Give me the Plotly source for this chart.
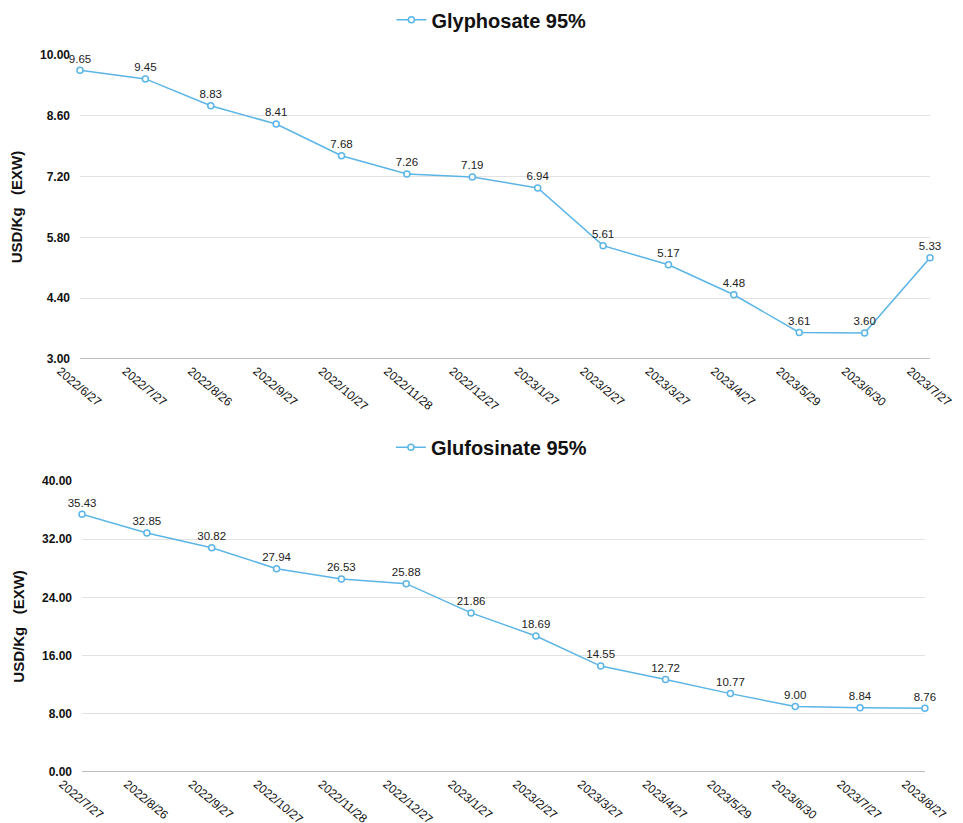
import plotly.graph_objects as go

# Glyphosate 95% price series
gly_dates = ["2022/6/27", "2022/7/27", "2022/8/26", "2022/9/27", "2022/10/27", "2022/11/28",
             "2022/12/27", "2023/1/27", "2023/2/27", "2023/3/27", "2023/4/27", "2023/5/29",
             "2023/6/30", "2023/7/27"]
gly_prices = [9.65, 9.45, 8.83, 8.41, 7.68, 7.26, 7.19, 6.94, 5.61, 5.17, 4.48, 3.61, 3.60, 5.33]

# Glufosinate 95% price series
glu_dates = ["2022/7/27", "2022/8/26", "2022/9/27", "2022/10/27", "2022/11/28", "2022/12/27",
             "2023/1/27", "2023/2/27", "2023/3/27", "2023/4/27", "2023/5/29", "2023/6/30",
             "2023/7/27", "2023/8/27"]
glu_prices = [35.43, 32.85, 30.82, 27.94, 26.53, 25.88, 21.86, 18.69, 14.55, 12.72, 10.77, 9.00, 8.84, 8.76]

gly_ticks = [3.00, 4.40, 5.80, 7.20, 8.60, 10.00]
glu_ticks = [0.00, 8.00, 16.00, 24.00, 32.00, 40.00]

LINE = "#5BB5E6"
FONT = "Liberation Sans, Arial, sans-serif"

fig = go.Figure()

fig.add_trace(go.Scatter(
    x=list(range(len(gly_dates))), y=gly_prices, name="Glyphosate 95%",
    mode="lines+markers+text", text=[f"{v:.2f}" for v in gly_prices],
    textposition="top center", textfont=dict(size=11.5, color="#222222", family=FONT),
    line=dict(color=LINE, width=1.5),
    marker=dict(symbol="circle", size=6, color="white", line=dict(color=LINE, width=1.5)),
    xaxis="x", yaxis="y", legend="legend", cliponaxis=False,
))

fig.add_trace(go.Scatter(
    x=list(range(len(glu_dates))), y=glu_prices, name="Glufosinate 95%",
    mode="lines+markers+text", text=[f"{v:.2f}" for v in glu_prices],
    textposition="top center", textfont=dict(size=11.5, color="#222222", family=FONT),
    line=dict(color=LINE, width=1.5),
    marker=dict(symbol="circle", size=6, color="white", line=dict(color=LINE, width=1.5)),
    xaxis="x2", yaxis="y2", legend="legend2", cliponaxis=False,
))

xcommon = dict(showgrid=False, zeroline=False, showline=False, ticks="",
               tickangle=40, tickfont=dict(size=12, color="#111111", family=FONT),
               automargin=False, ticklabeloverflow="allow", ticklabelshift=-20,
               ticklabelstandoff=2)
ycommon = dict(showgrid=True, gridcolor="#E2E2E2", gridwidth=1, zeroline=False,
               showline=False, ticks="", tickformat=".2f",
               tickfont=dict(size=12, color="#111111", family=FONT, weight="bold"),
               automargin=False, ticklabelstandoff=9)
title_font = dict(size=15, color="#111111", family=FONT, weight="bold")

fig.update_layout(
    width=963, height=823,
    margin=dict(l=80, r=33, t=55, b=51, autoexpand=False),
    paper_bgcolor="white", plot_bgcolor="white",
    template="none",
    font=dict(family=FONT),
    xaxis=dict(**xcommon, domain=[0, 1], anchor="y",
               tickmode="array", tickvals=list(range(len(gly_dates))), ticktext=gly_dates,
               range=[0, len(gly_dates) - 1]),
    yaxis=dict(**ycommon, domain=[0.576, 1.0], anchor="x", range=[3, 10],
               tickmode="array", tickvals=gly_ticks,
               title=dict(text="USD/Kg   (EXW)", font=title_font, standoff=13)),
    xaxis2=dict(**xcommon, domain=[0.0024, 0.994], anchor="y2",
                tickmode="array", tickvals=list(range(len(glu_dates))), ticktext=glu_dates,
                range=[0, len(glu_dates) - 1]),
    yaxis2=dict(**ycommon, domain=[0.0, 0.406], anchor="x2", range=[0, 40],
                tickmode="array", tickvals=glu_ticks,
                title=dict(text="USD/Kg   (EXW)", font=title_font, standoff=13)),
    legend=dict(x=0.484, y=1.049, xanchor="center", yanchor="middle", orientation="h",
                font=dict(size=20, color="#111111", family=FONT, weight="bold"),
                bgcolor="rgba(0,0,0,0)", itemwidth=30),
    legend2=dict(x=0.484, y=0.453, xanchor="center", yanchor="middle", orientation="h",
                 font=dict(size=20, color="#111111", family=FONT, weight="bold"),
                 bgcolor="rgba(0,0,0,0)", itemwidth=30),
    showlegend=True,
)

# darker baseline along the bottom of each panel
fig.add_shape(type="line", xref="x domain", yref="y", x0=0, x1=1, y0=3, y1=3,
              line=dict(color="#A8A8A8", width=1.5))
fig.add_shape(type="line", xref="x2 domain", yref="y2", x0=0, x1=1, y0=0, y1=0,
              line=dict(color="#A8A8A8", width=1.5))

fig.write_html("out.html")
